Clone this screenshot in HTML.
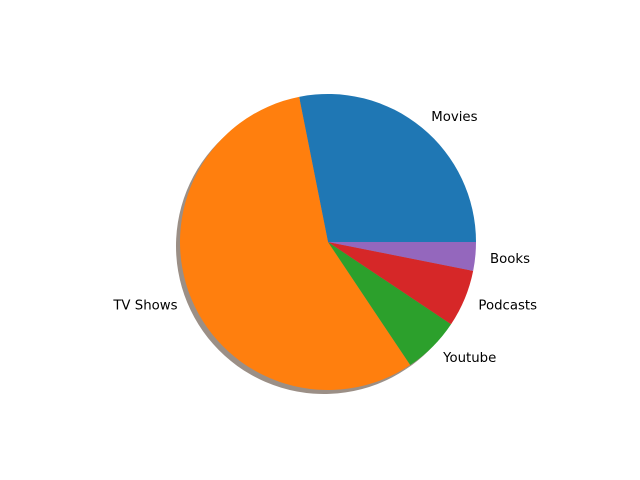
<!DOCTYPE html>
<html><head><meta charset="utf-8"><style>body{margin:0;background:#fff}svg{display:block}</style></head>
<body>
<svg id="chart" width="640" height="480" xmlns="http://www.w3.org/2000/svg" font-family="DejaVu Sans, Liberation Sans, sans-serif" font-size="13.3"></svg>
<script>
const categories = ["Movies", "TV Shows", "Youtube", "Podcasts", "Books"];
const values = [9, 18, 2, 2, 1];
const colors = ["#1f77b4", "#ff7f0e", "#2ca02c", "#d62728", "#9467bd"];
const svg = document.getElementById('chart');
const NS = 'http://www.w3.org/2000/svg';
const cx = 328, cy = 242, r = 148;
const total = values.reduce((a, b) => a + b, 0);
function pt(a, rr, ox, oy) { return [ox + rr * Math.cos(a), oy - rr * Math.sin(a)]; }
function wedgePath(a0, a1, ox, oy) {
  const p0 = pt(a0, r, ox, oy), p1 = pt(a1, r, ox, oy);
  const large = (a1 - a0) > Math.PI ? 1 : 0;
  return `M${ox},${oy} L${p0[0]},${p0[1]} A${r},${r} 0 ${large} 0 ${p1[0]},${p1[1]} Z`;
}
const shadowG = document.createElementNS(NS, 'g');


svg.appendChild(shadowG);
const wedgeG = document.createElementNS(NS, 'g');
svg.appendChild(wedgeG);
let a = 0;
values.forEach((v, i) => {
  const a0 = a, a1 = a + v / total * 2 * Math.PI;
  a = a1;
  const s = document.createElementNS(NS, 'path');
  s.setAttribute('d', wedgePath(a0, a1, cx - 4, cy + 4));
  s.setAttribute('fill', '#7a6a5e');
  s.setAttribute('opacity', '0.75');
  
  
  shadowG.appendChild(s);
  const w = document.createElementNS(NS, 'path');
  w.setAttribute('d', wedgePath(a0, a1, cx, cy));
  w.setAttribute('fill', colors[i]);
  
  
  wedgeG.appendChild(w);
  const mid = (a0 + a1) / 2;
  const lp = pt(mid, r * 1.1, cx, cy);
  const t = document.createElementNS(NS, 'text');
  t.setAttribute('x', lp[0]);
  t.setAttribute('y', lp[1] + 5);
  t.setAttribute('text-anchor', Math.cos(mid) >= 0 ? 'start' : 'end');
  t.textContent = categories[i];
  
  
  svg.appendChild(t);
});
</script>
</body></html>
